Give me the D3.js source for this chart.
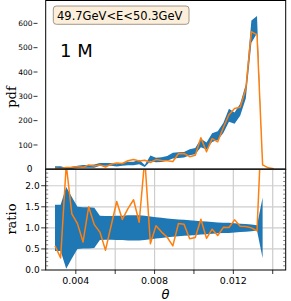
<!DOCTYPE html>
<html>
<head>
<meta charset="utf-8">
<script src="https://cdn.jsdelivr.net/npm/d3@7"></script>
<style>
  body { margin: 0; background: #fff; }
  svg { display: block; }
</style>
</head>
<body>
<div id="chart"></div>
<script>
// bin centres in theta
const theta = [0.0029425, 0.0032275, 0.0035125, 0.0037975, 0.0040825, 0.0043675, 0.0046525, 0.0049375,
  0.0052225, 0.0055075, 0.0057925, 0.0060775, 0.0063625, 0.0066475, 0.0069325, 0.0072175,
  0.0075025, 0.0077875, 0.0080725, 0.0083575, 0.0086425, 0.0089275, 0.0092125, 0.0094975,
  0.0097825, 0.0100675, 0.0103525, 0.0106375, 0.0109225, 0.0112075, 0.0114925, 0.0117775,
  0.0120625, 0.0123475, 0.0126325, 0.0129175, 0.0132025, 0.0134875, 0.0137725, 0.0140575];

// reference pdf (blue band centre) and its relative error
const refPdf = [8, 8, 3, 6, 10, 12, 12, 13, 20, 20, 20, 16, 20, 24, 24, 30, 14, 45, 38, 40,
  45, 56, 58, 60, 70, 75, 108, 96, 130, 138, 170, 222, 210, 245, 320, 566, 595, 4.5, 0, 0];
const relErr = [0.55, 0.55, 0.97, 0.73, 0.50, 0.49, 0.49, 0.48, 0.29, 0.28, 0.28, 0.29, 0.29, 0.30,
  0.30, 0.30, 0.29, 0.27, 0.25, 0.24, 0.22, 0.21, 0.20, 0.19, 0.18, 0.17, 0.16, 0.15, 0.14, 0.13,
  0.12, 0.12, 0.11, 0.10, 0.09, 0.08, 0.06, 0.72, null, null];

// generated pdf (orange)
const genPdf = [4.6, 2.3, 7.5, 8, 11, 8, 18, 14, 18, 9.4, 21, 26, 24, 35, 40, 34, 37, 28, 40, 36,
  35, 32, 64, 65, 52, 58, 130, 72, 126, 113, 172, 224, 250, 255, 330, 566, 553, 18, 6, 2];

const pdfTicks = [100, 200, 300, 400, 500, 600];
const ratioTicks = [0.0, 0.5, 1.0, 1.5, 2.0];
const xTicks = [0.004, 0.006, 0.008, 0.010, 0.012, 0.014];
const xLabels = [0.004, 0.008, 0.012];
const boxText = "49.7GeV<E<50.3GeV";
const sizeText = "1 M";

const W = 291, H = 301;
const left = 45.7, right = 285.7, top1 = 0.5, bot1 = 169.3, bot2 = 270;

const svg = d3.select("#chart").append("svg").attr("width", W).attr("height", H);

const x = d3.scaleLinear().domain([0.00247, 0.01466]).range([left, right]);
const y1 = d3.scaleLinear().domain([0, 694]).range([bot1, top1]);
const y2 = d3.scaleLinear().domain([0, 2.39]).range([bot2, bot1]);

const bins = theta.map((t, i) => ({t, b: refPdf[i], e: relErr[i], o: genPdf[i]}));

const defs = svg.append("defs");
defs.append("clipPath").attr("id", "c1").append("rect")
  .attr("x", left).attr("y", top1).attr("width", right - left).attr("height", bot1 - top1);
defs.append("clipPath").attr("id", "c2").append("rect")
  .attr("x", left).attr("y", bot1).attr("width", right - left).attr("height", bot2 - bot1);

// ---- top panel
const g1 = svg.append("g").attr("clip-path", "url(#c1)");
g1.append("path")
  .datum(bins)
  .attr("fill", "#1f77b4")
  .attr("d", d3.area()
    .defined(d => d.e != null)
    .x(d => x(d.t))
    .y0(d => y1(d.b * (1 - d.e)))
    .y1(d => y1(d.b * (1 + d.e))));
g1.append("path")
  .datum(bins)
  .attr("fill", "none")
  .attr("stroke", "#ff7f0e")
  .attr("stroke-width", 1.5)
  .attr("stroke-linejoin", "round")
  .attr("d", d3.line().x(d => x(d.t)).y(d => y1(d.o)));

// ---- ratio panel
const g2 = svg.append("g");
const gridG = g2.append("g").attr("stroke", "#c8c8c8").attr("stroke-width", 1.2);

const g2c = g2.append("g").attr("clip-path", "url(#c2)");
g2c.append("path")
  .datum(bins)
  .attr("fill", "#1f77b4")
  .attr("d", d3.area()
    .defined(d => d.e != null)
    .x(d => x(d.t))
    .y0(d => y2(1 - d.e))
    .y1(d => y2(1 + d.e)));

// grid above the band, below the line
const gridTop = g2.append("g").attr("stroke", "#c8c8c8").attr("stroke-width", 1.2).attr("opacity", 0.9);
gridTop.selectAll("line.v").data(xTicks).join("line")
  .attr("x1", d => x(d)).attr("x2", d => x(d)).attr("y1", bot1).attr("y2", bot2);
gridTop.selectAll("line.h").data(ratioTicks.slice(1)).join("line")
  .attr("x1", left).attr("x2", right).attr("y1", d => y2(d)).attr("y2", d => y2(d));

const ratio = bins.filter(d => d.b > 0).map(d => ({t: d.t, r: d.o / d.b}));
g2c.append("path")
  .datum(ratio)
  .attr("fill", "none")
  .attr("stroke", "#ff7f0e")
  .attr("stroke-width", 1.5)
  .attr("stroke-linejoin", "round")
  .attr("d", d3.line().x(d => x(d.t)).y(d => y2(d.r)));
g2c.raise();

// ---- frames
svg.append("rect").attr("x", left).attr("y", top1).attr("width", right - left).attr("height", bot1 - top1)
  .attr("fill", "none").attr("stroke", "#000").attr("stroke-width", 1);
svg.append("rect").attr("x", left).attr("y", bot1).attr("width", right - left).attr("height", bot2 - bot1)
  .attr("fill", "none").attr("stroke", "#000").attr("stroke-width", 1);
svg.append("line").attr("x1", left).attr("x2", right).attr("y1", bot1).attr("y2", bot1)
  .attr("stroke", "#222").attr("stroke-width", 1.6);

// ---- top y axis
const ay1 = svg.append("g").attr("font-family", "DejaVu Sans").attr("font-size", 7.5).attr("fill", "#000");
pdfTicks.forEach(v => {
  ay1.append("line").attr("x1", 33.5).attr("x2", 37.5).attr("y1", y1(v)).attr("y2", y1(v))
    .attr("stroke", "#000").attr("stroke-width", 0.8);
  ay1.append("text").attr("x", 32.5).attr("y", y1(v)).attr("dy", "0.35em")
    .attr("text-anchor", "end").text(v);
});
svg.append("text").attr("x", 32.5).attr("y", bot1).attr("dy", "0.35em")
  .attr("text-anchor", "end").attr("font-family", "DejaVu Sans").attr("font-size", 9).text("0");

// ---- ratio y axis
const ay2 = svg.append("g").attr("font-family", "DejaVu Sans").attr("font-size", 9).attr("fill", "#000");
ratioTicks.forEach(v => {
  ay2.append("line").attr("x1", left - 4.5).attr("x2", left).attr("y1", y2(v)).attr("y2", y2(v))
    .attr("stroke", "#000").attr("stroke-width", 0.8);
  ay2.append("text").attr("x", left - 6).attr("y", y2(v)).attr("dy", "0.35em")
    .attr("text-anchor", "end").text(v.toFixed(1));
});
// inward minor ticks on both sides
const minor = d3.range(1, 24).map(k => k / 10);
svg.append("g").attr("stroke", "#333").attr("stroke-width", 0.6)
  .selectAll("line").data(minor).join("line")
  .attr("x1", left).attr("x2", left + 2.5).attr("y1", d => y2(d)).attr("y2", d => y2(d));
svg.append("g").attr("stroke", "#333").attr("stroke-width", 0.6)
  .selectAll("line").data(minor).join("line")
  .attr("x1", right - 2.5).attr("x2", right).attr("y1", d => y2(d)).attr("y2", d => y2(d));

// ---- x axis
const ax = svg.append("g").attr("font-family", "DejaVu Sans").attr("font-size", 9.5);
xTicks.forEach(v => {
  ax.append("line").attr("x1", x(v)).attr("x2", x(v)).attr("y1", bot2).attr("y2", bot2 + 4)
    .attr("stroke", "#000").attr("stroke-width", 0.8);
});
xLabels.forEach(v => {
  ax.append("text").attr("x", x(v)).attr("y", 283.5).attr("text-anchor", "middle").text(v.toFixed(3));
});
svg.append("text").attr("x", 165.5).attr("y", 299).attr("text-anchor", "middle")
  .attr("font-family", "DejaVu Sans").attr("font-style", "italic").attr("font-size", 13).text("θ");

// ---- axis titles
svg.append("text").attr("transform", "translate(16,97) rotate(-90)").attr("text-anchor", "middle")
  .attr("font-family", "DejaVu Serif").attr("font-size", 13).text("pdf");
svg.append("text").attr("transform", "translate(16,219) rotate(-90)").attr("text-anchor", "middle")
  .attr("font-family", "DejaVu Serif").attr("font-size", 13).text("ratio");

// ---- annotations
svg.append("rect").attr("x", 53.3).attr("y", 6).attr("width", 135.7).attr("height", 18.3)
  .attr("rx", 3).attr("fill", "#fbefdb").attr("stroke", "#8c8070").attr("stroke-width", 0.8);
svg.append("text").attr("x", 57).attr("y", 19.5).attr("font-family", "DejaVu Sans")
  .attr("font-size", 11.5).text(boxText);
svg.append("text").attr("x", 60).attr("y", 56.7).attr("font-family", "DejaVu Sans")
  .attr("font-size", 18).text(sizeText);
</script>
</body>
</html>
